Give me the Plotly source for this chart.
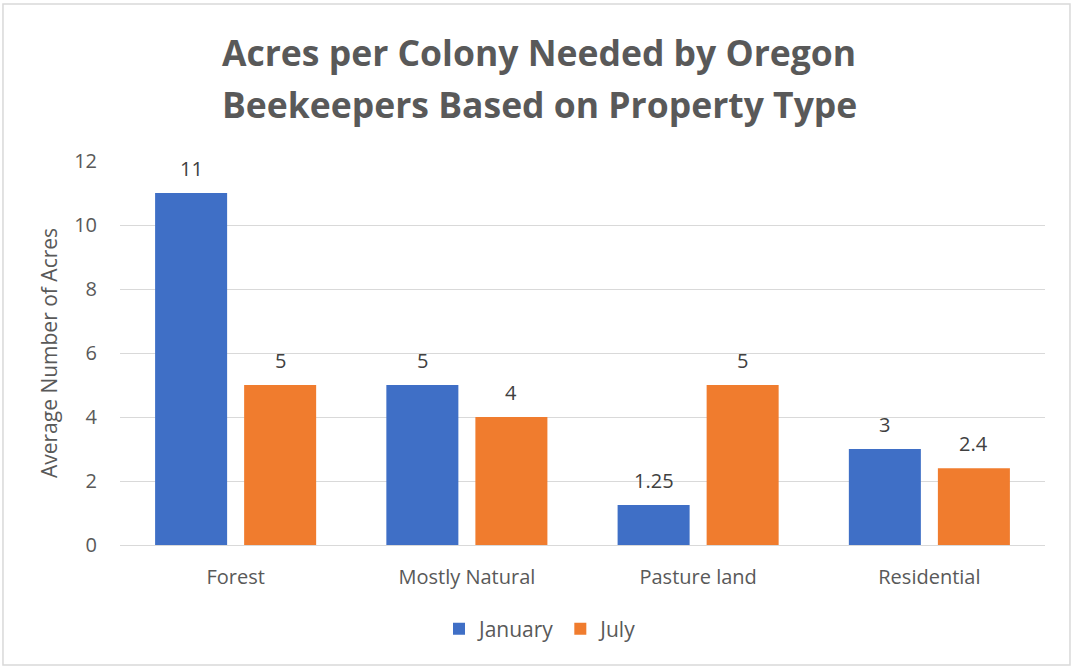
import plotly.graph_objects as go

categories = ["Forest", "Mostly Natural", "Pasture land", "Residential"]
january = [11, 5, 1.25, 3]
july = [5, 4, 5, 2.4]
january_labels = ["11", "5", "1.25", "3"]
july_labels = ["5", "4", "5", "2.4"]
y_ticks = [0, 2, 4, 6, 8, 10, 12]
title_lines = ["Acres per Colony Needed by Oregon", "Beekeepers Based on Property Type"]

FONT = "Open Sans"
GREY = "#595959"

fig = go.Figure()
fig.add_trace(go.Bar(
    name="January", x=categories, y=january,
    marker=dict(color="#3F6FC6", line=dict(width=0)),
))
fig.add_trace(go.Bar(
    name="July", x=categories, y=july,
    marker=dict(color="#F07C2E", line=dict(width=0)),
))

# data labels above bars
for vals, labels, shift in [(january, january_labels, -44.5), (july, july_labels, 44.5)]:
    for c, v, t in zip(categories, vals, labels):
        fig.add_annotation(x=c, y=v, text=t, xref="x", yref="y", showarrow=False,
                           xshift=shift, yshift=25, yanchor="middle",
                           font=dict(size=20, color="#404040", family=FONT))

# title lines
for i, line in enumerate(title_lines):
    fig.add_annotation(x=(539 - 120) / 925, y=(545 - (52 + 52 * i)) / 384,
                       xref="paper", yref="paper", text="<b>" + line + "</b>",
                       showarrow=False, xanchor="center", yanchor="middle",
                       font=dict(size=35.5, color=GREY, family=FONT))

fig.update_layout(
    width=1073, height=667,
    margin=dict(l=120, r=28, t=161, b=122),
    paper_bgcolor="white", plot_bgcolor="white",
    font=dict(family=FONT, color=GREY, size=20),
    barmode="group", bargap=0.23, bargroupgap=0.191,
    legend=dict(orientation="h", x=(541 - 120) / 925, xanchor="center", y=-0.219, yanchor="middle",
                font=dict(size=21, color=GREY), traceorder="normal"),
    showlegend=True,
)
fig.update_yaxes(
    range=[0, 12], tickvals=y_ticks, showgrid=True, gridcolor="#D9D9D9", gridwidth=1,
    zeroline=False, showline=False, ticks="", ticklabelstandoff=22,
    tickfont=dict(size=20, color=GREY),
    title=dict(text="Average Number of Acres", font=dict(size=21, color=GREY), standoff=10),
)
fig.update_xaxes(
    showline=True, linecolor="#D9D9D9", linewidth=1, ticks="", ticklabelstandoff=14,
    tickfont=dict(size=20, color=GREY),
)
fig.add_shape(type="rect", xref="paper", yref="paper",
              x0=-0.1265, x1=1.027, y0=-0.3125, y1=1.409,
              line=dict(color="#D9D9D9", width=1.5), fillcolor="rgba(0,0,0,0)", layer="below")

fig.write_html("out.html", config={"displayModeBar": False},
               post_script="document.body.style.margin='0';")
